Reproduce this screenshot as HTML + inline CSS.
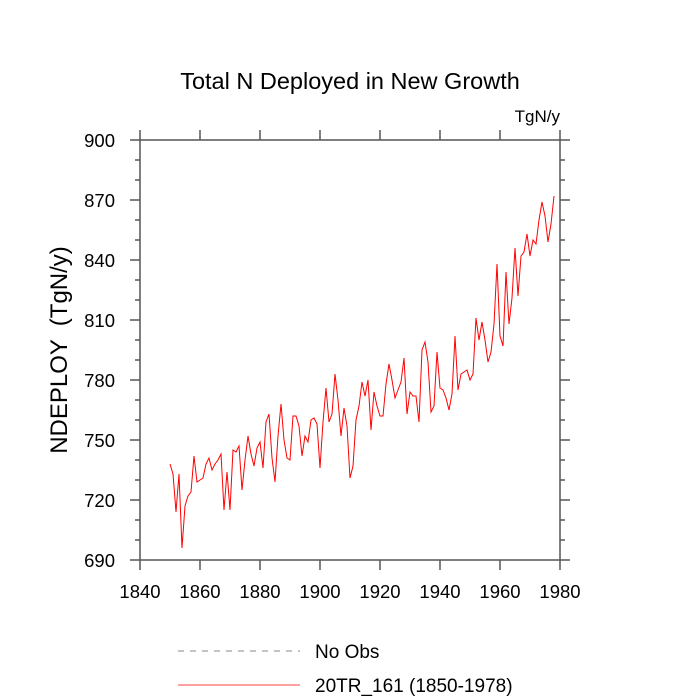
<!DOCTYPE html>
<html><head><meta charset="utf-8"><style>body{margin:0;background:#fff}svg{display:block;font-family:"Liberation Sans",sans-serif}</style></head>
<body>
<svg id="chart" width="700" height="700" viewBox="0 0 700 700">
<text x="350" y="89" font-size="23.5" text-anchor="middle">Total N Deployed in New Growth</text>
<text x="560" y="122" font-size="17" text-anchor="end">TgN/y</text>
<text transform="translate(67,350) rotate(-90)" font-size="24" text-anchor="middle" xml:space="preserve">NDEPLOY  (TgN/y)</text>
<g id="axes"></g>
<polyline id="series" fill="none" stroke="#ff0000" stroke-width="1"/>
<line x1="178" y1="651" x2="300" y2="651" stroke="#888" stroke-dasharray="6,6"/>
<text x="315" y="658" font-size="19">No Obs</text>
<line x1="178" y1="685" x2="300" y2="685" stroke="#ff0000" stroke-width="0.8"/>
<text x="315" y="692" font-size="19">20TR_161 (1850-1978)</text>
</svg>
<script>
const years=[];for(let y=1850;y<=1978;y++)years.push(y);
const values=[738,733,714,733,696,717,722,724,742,729,730,731,738,741,735,738,740,743,715,734,715,745,744,747,725,740,752,743,737,746,749,736,759,763,741,729,752,768,750,741,740,762,762,757,742,752,749,760,761,758,736,759,776,759,763,783,770,752,766,757,731,737,760,767,779,772,780,755,774,767,762,762,778,788,780,771,775,779,791,763,774,772,772,759,795,799,789,764,767,794,776,775,771,765,773,802,775,783,784,785,780,783,811,800,809,800,789,794,808,838,802,797,834,808,821,846,822,842,844,853,842,850,848,860,869,862,849,858,872];
const xTicks=[1840,1860,1880,1900,1920,1940,1960,1980];
const yTicks=[690,720,750,780,810,840,870,900];
const X0=140,X1=560,Y0=140,Y1=560;
const xs=v=>X0+(v-1840)/(1980-1840)*(X1-X0);
const ys=v=>Y1-(v-690)/(900-690)*(Y1-Y0);
const NS="http://www.w3.org/2000/svg";
const g=document.getElementById('axes');
const AC='#555';
function ln(x1,y1,x2,y2,n){const l=document.createElementNS(NS,'line');l.setAttribute('x1',x1);l.setAttribute('y1',y1);l.setAttribute('x2',x2);l.setAttribute('y2',y2);l.setAttribute('stroke',AC);l.setAttribute('stroke-width',1.5);


g.appendChild(l);}
function tx(x,y,s,a,n){const t=document.createElementNS(NS,'text');t.setAttribute('x',x);t.setAttribute('y',y);t.setAttribute('font-size','18.5');t.setAttribute('text-anchor',a);t.textContent=s;


g.appendChild(t);}
const fr=document.createElementNS(NS,'rect');fr.setAttribute('x',X0);fr.setAttribute('y',Y0);fr.setAttribute('width',X1-X0);fr.setAttribute('height',Y1-Y0);fr.setAttribute('fill','none');fr.setAttribute('stroke',AC);fr.setAttribute('stroke-width',1.5);


g.appendChild(fr);
xTicks.forEach(v=>{const x=xs(v);ln(x,Y1,x,Y1+10,'x-tick');ln(x,Y0,x,Y0-10,'x-tick-top');});
for(let v=690;v<=900;v+=10){const y=ys(v),maj=(v%30===0),L=maj?10:5;ln(X0,y,X0-L,y,'y-tick');ln(X1,y,X1+L,y,'y-tick-right');}
xTicks.forEach(v=>tx(xs(v),Y1+38,String(v),'middle','x-tick-label'));
yTicks.forEach(v=>tx(X0-25,ys(v)+7,String(v),'end','y-tick-label'));
document.getElementById('series').setAttribute('points',values.map((v,i)=>xs(years[i])+','+ys(v)).join(' '));
</script>
</body></html>
